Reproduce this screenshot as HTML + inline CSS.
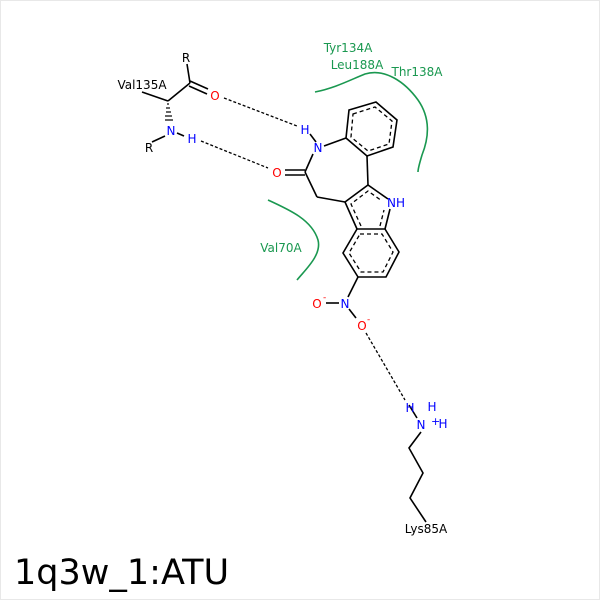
<!DOCTYPE html>
<html><head><style>
html,body{margin:0;padding:0;background:#fff}
svg{display:block}
text{font-family:"DejaVu Sans","Liberation Sans",sans-serif}
</style></head><body>
<svg width="600" height="600" viewBox="0 0 600 600" xmlns="http://www.w3.org/2000/svg">
<rect x="0.5" y="0.5" width="599" height="599" fill="#fff" stroke="#e8e8e8"/>
<g fill="none" stroke="#000" stroke-width="1.6">
<!-- benzene top -->
<polygon points="349,110 376,102 397,120 393,147 367,156 346,138"/>
<polygon points="353,114 375,107 392,121 389,144 368,151 351,137" stroke-dasharray="4,3" stroke-width="1.3"/>
<!-- benzo ring -->
<polygon points="357,229 385,229 399,252 386,277 358,277 343,253"/>
<polygon points="360,234 382,234 393,252 383,272 361,272 349,253" stroke-dasharray="4,3" stroke-width="1.3"/>
<!-- pyrrole -->
<polyline points="357,229 345,202 368,185 388,199"/>
<line x1="385" y1="229" x2="390" y2="209"/>
<polyline points="361,226 351,204 368,191 382,201" stroke-dasharray="4,3" stroke-width="1.3"/>
<line x1="380" y1="226" x2="384" y2="210" stroke-dasharray="4,3" stroke-width="1.3"/>
<!-- 7 ring -->
<line x1="367" y1="156" x2="368" y2="185"/>
<line x1="346" y1="138" x2="324" y2="146"/>
<line x1="313" y1="154" x2="305" y2="172"/>
<line x1="305" y1="172" x2="317" y2="197"/>
<line x1="317" y1="197" x2="345" y2="202"/>
<line x1="305" y1="170" x2="285" y2="170"/>
<line x1="305" y1="175" x2="285" y2="175"/>
<line x1="316" y1="142" x2="310" y2="134"/>
<!-- nitro -->
<line x1="358" y1="277" x2="348" y2="297"/>
<line x1="339" y1="303" x2="326" y2="303"/>
<line x1="349" y1="309" x2="356" y2="318"/>
<!-- Val135A -->
<line x1="142" y1="92" x2="168" y2="101"/>
<line x1="168" y1="101" x2="190" y2="83"/>
<line x1="190" y1="83" x2="187" y2="64"/>
<line x1="190" y1="81" x2="208" y2="89"/>
<line x1="189" y1="86" x2="207" y2="94"/>
<line x1="165" y1="136" x2="152" y2="142"/>
<line x1="177" y1="133" x2="184" y2="136"/>
<!-- lys chain -->
<polyline points="417,418 409,405"/>
<polyline points="421,432 409,448 423,473 410,498 426,522"/>
</g>
<!-- wedge hash -->
<g stroke="#000" stroke-width="1.2">
<line x1="167" y1="104" x2="169" y2="104"/><line x1="166" y1="108" x2="170" y2="108"/><line x1="166" y1="112" x2="171" y2="112"/><line x1="165" y1="116" x2="172" y2="116"/><line x1="165" y1="120" x2="173" y2="120"/>
</g>
<!-- hbonds -->
<g stroke="#000" stroke-width="1.3" stroke-dasharray="3,2" fill="none">
<line x1="224" y1="98" x2="297" y2="126"/>
<line x1="201" y1="141" x2="268" y2="168"/>
<line x1="366" y1="333" x2="405" y2="400"/>
</g>
<!-- green arcs -->
<g stroke="#1a9850" stroke-width="1.6" fill="none">
<path d="M315,92 C335,88 350,80 365,74 C385,68 405,82 418,100 C432,120 428,140 422,155 C420,162 418,168 418,172"/>
<path d="M268,200 C290,210 312,220 318,240 C322,255 305,270 297,280"/>
</g>
<g font-size="12">
<text x="142" y="89" fill="#000" text-anchor="middle">Val135A</text>
<text x="186" y="62" fill="#000" text-anchor="middle">R</text>
<text x="149" y="152" fill="#000" text-anchor="middle">R</text>
<text x="215" y="100" fill="#f00" text-anchor="middle">O</text>
<text x="171" y="135" fill="#00f" text-anchor="middle">N</text>
<text x="192" y="143" fill="#00f" text-anchor="middle">H</text>
<text x="305" y="134" fill="#00f" text-anchor="middle">H</text>
<text x="318" y="152" fill="#00f" text-anchor="middle">N</text>
<text x="277" y="177" fill="#f00" text-anchor="middle">O</text>
<text x="387" y="207" fill="#00f">NH</text>
<text x="345" y="308" fill="#00f" text-anchor="middle">N</text>
<text x="317" y="308" fill="#f00" text-anchor="middle">O</text>
<text x="323" y="300" fill="#f00" font-size="9">-</text>
<text x="362" y="330" fill="#f00" text-anchor="middle">O</text>
<text x="367" y="322" fill="#f00" font-size="9">-</text>
<text x="410" y="412" fill="#00f" text-anchor="middle">H</text>
<text x="432" y="411" fill="#00f" text-anchor="middle">H</text>
<text x="421" y="429" fill="#00f" text-anchor="middle">N</text>
<text x="431" y="425" fill="#00f" font-size="11">+</text>
<text x="443" y="428" fill="#00f" text-anchor="middle">H</text>
<text x="426" y="533" fill="#000" text-anchor="middle">Lys85A</text>
<text x="348" y="52" fill="#1a9850" text-anchor="middle">Tyr134A</text>
<text x="357" y="69" fill="#1a9850" text-anchor="middle">Leu188A</text>
<text x="417" y="76" fill="#1a9850" text-anchor="middle">Thr138A</text>
<text x="281" y="252" fill="#1a9850" text-anchor="middle">Val70A</text>
</g>
<text x="14" y="584" font-size="35" fill="#000">1q3w_1:ATU</text>
</svg>
</body></html>
